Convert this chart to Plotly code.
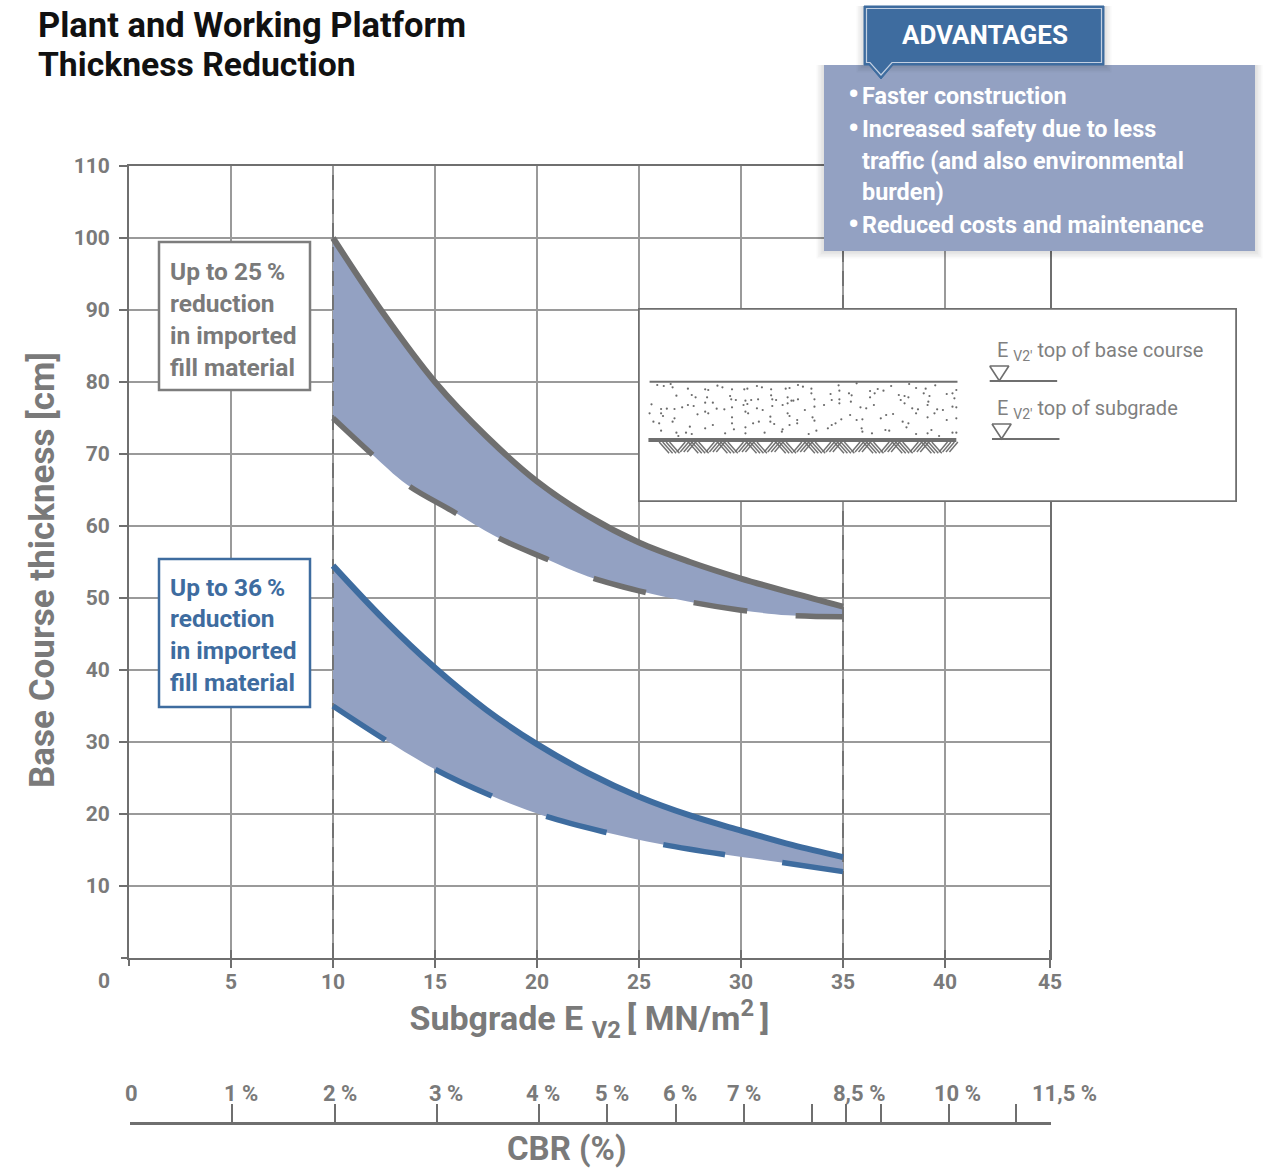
import plotly.graph_objects as go

W, H = 1274, 1171
# plotly keeps a constant 12 px at the top and right of this page
OFF = 12
GREY = "#6f6f6f"
TXT = "#7a7a7a"
BLUE = "#3e6c9f"
BAND = "#93a1c2"
FONT = "Roboto"

# ---- data ----
grey_solid_x = [10, 12.5, 15, 17.5, 20, 22.5, 25, 27.5, 30, 32.5, 35]
grey_solid_y = [100, 89.4, 80, 72.5, 66.2, 61.4, 57.7, 55, 52.7, 50.7, 48.8]
grey_dash_x = [10, 11.9, 13.6, 15.9, 18, 20.4, 22.5, 25, 27.4, 30, 32.3, 35]
grey_dash_y = [75, 70, 65.8, 62, 58.5, 55.5, 53, 51, 49.5, 48.3, 47.6, 47.4]
blue_solid_x = [10, 12.5, 15, 17.5, 20, 22.5, 25, 27.5, 30, 32.5, 35]
blue_solid_y = [54.5, 47, 40.3, 34.5, 29.7, 25.7, 22.4, 19.8, 17.7, 15.7, 14]
blue_dash_x = [10, 12.5, 15, 17.7, 20.4, 23.3, 26.1, 29.1, 31.9, 35]
blue_dash_y = [35, 30.4, 26.2, 22.6, 19.7, 17.5, 15.8, 14.4, 13.3, 12]
x_ticks = [5, 10, 15, 20, 25, 30, 35, 40, 45.147]
x_labels = ["5", "10", "15", "20", "25", "30", "35", "40", "45"]
y_ticks = [10, 20, 30, 40, 50, 60, 70, 80, 90, 100, 110]
bounds = [10, 35]
cbr_ticks = [0, 5, 10, 15, 20, 23.3, 26.7, 30, 33.3, 35, 36.7, 40, 43.3, 45]
cbr_label_pos = [0, 5, 10, 15, 20, 23.3, 26.7, 30, 35, 40, 45]
cbr_labels = ["0", "1 %", "2 %", "3 %", "4 %", "5 %", "6 %", "7 %", "8,5 %", "10 %", "11,5 %"]
cbr_shift = [1, 9, 5, 9, 4, 5, 4, 0, 13, 9, 13]
gravel_x = [45,62,80,85,125,170,178,202,215,240,272,280,305,318,342,380,390,412,425,447,518,565,600,620,655,702,720,745,770,825,
            95,135,145,175,235,238,250,275,290,308,342,345,355,385,395,412,447,455,497,520,520,545,552,600,612,635,675,690,700,740,755,800,815,820,
            30,55,70,90,110,125,140,170,190,200,220,240,270,280,305,320,345,372,385,400,430,455,480,500,520,550,575,590,610,680,690,710,725,750,752,775,790,815,825,
            25,55,60,90,150,170,178,240,275,282,340,385,390,410,450,455,500,525,548,565,580,628,642,660,685,700,720,750,768,800,825,
            35,50,85,55,95,100,120,135,130,170,190,240,245,275,295,310,340,350,372,390,410,222,275,325,370,440,460,490,510,578,580,605,640,650,695,720,750,760,780,815,825]
gravel_y = [225,228,222,232,236,238,240,227,232,238,238,236,228,232,238,236,234,225,230,236,226,220,243,237,228,222,234,236,226,240,
            257,255,262,262,258,268,270,272,270,268,256,268,270,262,272,268,250,268,252,242,268,250,256,262,250,242,255,258,262,250,258,252,250,265,
            283,297,296,297,292,285,288,278,278,296,298,292,285,282,295,300,288,285,280,272,300,290,285,270,280,275,292,295,285,270,280,295,298,285,275,298,300,290,292,
            310,310,318,325,313,305,310,322,305,310,320,310,318,330,322,332,345,328,315,330,328,325,315,312,335,340,310,322,310,330,325,
            335,340,335,362,368,378,368,372,350,355,345,340,358,352,340,335,335,342,358,345,340,370,370,368,365,372,362,355,340,355,365,370,360,362,352,372,370,360,378,368,368]

title_lines = ["Plant and Working Platform", "Thickness Reduction"]
box25_lines = ["Up to 25\u2009%", "reduction", "in imported", "fill material"]
box36_lines = ["Up to 36\u2009%", "reduction", "in imported", "fill material"]
adv_lines = ["Faster construction", "Increased safety due to less",
             "traffic (and also environmental", "burden)", "Reduced costs and maintenance"]


def px(x):
    return x / (W - OFF)


def py(y):
    return 1 - (y - OFF) / (H - OFF)


fig = go.Figure()


def band(xl, yl, xu, yu):
    fig.add_trace(go.Scatter(x=xl, y=yl, mode="lines", line=dict(width=0, shape="spline", color=BAND), hoverinfo="skip"))
    fig.add_trace(go.Scatter(x=xu, y=yu, mode="lines", line=dict(width=0, shape="spline", color=BAND),
                             fill="tonexty", fillcolor=BAND, hoverinfo="skip"))


band(grey_dash_x, grey_dash_y, grey_solid_x, grey_solid_y)
band(blue_dash_x, blue_dash_y, blue_solid_x, blue_solid_y)
for b in bounds:
    fig.add_trace(go.Scatter(x=[b, b], y=[0, 110], mode="lines",
                             line=dict(color=GREY, width=1.8, dash="15px,9px")))
fig.add_trace(go.Scatter(x=grey_solid_x, y=grey_solid_y, mode="lines", line=dict(color=GREY, width=6, shape="spline")))
fig.add_trace(go.Scatter(x=grey_dash_x, y=grey_dash_y, mode="lines", line=dict(color=GREY, width=5.5, shape="spline", dash="54px,49px")))
fig.add_trace(go.Scatter(x=blue_solid_x, y=blue_solid_y, mode="lines", line=dict(color=BLUE, width=6, shape="spline")))
fig.add_trace(go.Scatter(x=blue_dash_x, y=blue_dash_y, mode="lines", line=dict(color=BLUE, width=5.5, shape="spline", dash="62.5px,58px")))

# ---- inset (units are those of the drawn cross-section) ----
ix = dict(xaxis="x2", yaxis="y2", hoverinfo="skip")
fig.add_trace(go.Scatter(x=[-5.2, 1557, 1557, -5.2, -5.2], y=[-6, -6, 576, 576, -6], mode="lines",
                         fill="toself", fillcolor="white", line=dict(color=GREY, width=3.6), **ix))
fig.add_trace(go.Scatter(x=[25, 828], y=[215, 215], mode="lines", line=dict(color=GREY, width=2), **ix))
fig.add_trace(go.Scatter(x=[22, 825], y=[390, 390], mode="lines", line=dict(color=GREY, width=4), **ix))
hx, hy = [], []
cell = 0
x0 = 50
while x0 < 800:
    for k in range(4):
        if cell % 2 == 0:
            hx += [x0 + k * 9, x0 + 26 + k * 9, None]
            hy += [396, 430, None]
        else:
            hx += [x0 + k * 9 + 8, x0 + k * 9 + 30, None]
            hy += [426, 396, None]
    x0 += 38
    cell += 1
fig.add_trace(go.Scatter(x=hx, y=hy, mode="lines", line=dict(color=GREY, width=1.4), connectgaps=False, **ix))
fig.add_trace(go.Scatter(x=gravel_x, y=gravel_y, mode="markers", marker=dict(color="#6a6a6a", size=2.2), **ix))
for dx, dy in [(912, 168), (918, 342)]:
    fig.add_trace(go.Scatter(x=[dx, dx + 50, dx + 25, dx], y=[dy, dy, dy + 44, dy], mode="lines",
                             line=dict(color=GREY, width=1.6), **ix))
    fig.add_trace(go.Scatter(x=[dx, dx + 176], y=[dy + 45, dy + 45], mode="lines",
                             line=dict(color=GREY, width=1.8), **ix))

# invisible carrier for the CBR scale
fig.add_trace(go.Scatter(x=cbr_ticks, y=[0] * len(cbr_ticks), mode="markers", marker=dict(opacity=0),
                         xaxis="x3", yaxis="y3", hoverinfo="skip"))

shapes = []


def rect(x0, y0, x1, y1, fill, line=None, lw=0, opacity=1):
    shapes.append(dict(type="rect", xref="paper", yref="paper", x0=px(x0), x1=px(x1), y0=py(y1), y1=py(y0),
                       fillcolor=fill, opacity=opacity, layer="above",
                       line=dict(color=line or fill, width=lw)))


def path(points, fill, line, lw):
    d = "M " + " L ".join(f"{px(a):.5f},{py(b):.5f}" for a, b in points) + " Z"
    shapes.append(dict(type="path", xref="paper", yref="paper", path=d, fillcolor=fill, layer="above",
                       line=dict(color=line, width=lw)))


# origin ticks
shapes.append(dict(type="line", xref="paper", yref="paper", x0=px(129), x1=px(129), y0=py(966), y1=py(958),
                   line=dict(color=GREY, width=2)))
shapes.append(dict(type="line", xref="paper", yref="paper", x0=px(121), x1=px(129), y0=py(958), y1=py(958),
                   line=dict(color=GREY, width=2)))
rect(159, 242, 310, 390, "white", "#7d7d7d", 2.5)
rect(159, 559, 310, 707, "white", BLUE, 2.5)
for i in range(1, 6):
    rect(824 - i * 1.5, 65, 1255 + i * 1.5, 251 + i * 1.5, "#000000", opacity=0.025)
rect(824, 65, 1255, 251, BAND)
for i in range(1, 6):
    rect(864 - i * 1.5, 6, 1104 + i * 1.5, 65 + i * 1.5, "#000000", opacity=0.025)
path([(864, 6), (1104, 6), (1104, 65), (893, 65), (881, 79), (869, 65), (864, 65)], BLUE, BLUE, 1)
path([(866.5, 8.5), (1101.5, 8.5), (1101.5, 62.5), (892, 62.5), (881, 75), (870, 62.5), (866.5, 62.5)], BLUE, "#c3d0e2", 1.2)

ann = []


def text(x, y, s, size, color, bold=True, anchor="left", angle=0):
    ann.append(dict(xref="paper", yref="paper", x=px(x), y=py(y), text=f"<b>{s}</b>" if bold else s, showarrow=False,
                    xanchor=anchor, yanchor="middle", align="left", textangle=angle,
                    font=dict(family=FONT, size=size, color=color)))


text(36, 25, title_lines[0], 34.5, "#111111")
text(36, 65, title_lines[1], 33.7, "#111111")
for s, y in zip(box25_lines, [271, 303, 335, 367]):
    text(168, y, s, 24.5, TXT)
for s, y in zip(box36_lines, [587, 619, 650, 682]):
    text(168, y, s, 24.5, BLUE)
text(985, 35, "ADVANTAGES", 26, "white", anchor="center")
for s, y in zip(adv_lines, [96, 129, 161, 192, 225]):
    text(860, y, s, 23.4, "white")
for y in [95, 128, 224]:
    text(853, y, "•", 31, "white", anchor="center")
text(104, 981, "0", 21, TXT, anchor="center")
text(995, 351, "E <sub>V2'</sub> top of base course", 20, "#808080", bold=False)
text(995, 409, "E <sub>V2'</sub> top of subgrade", 20, "#808080", bold=False)
text(42, 570, "Base Course thickness [cm]", 35, TXT, anchor="center", angle=-90)
text(567, 1148, "CBR (%)", 33, TXT, anchor="center")
for p, s, sh in zip(cbr_label_pos, cbr_labels, cbr_shift):
    ann.append(dict(xref="x3", yref="paper", x=p, y=py(1093), xshift=sh, text=f"<b>{s}</b>", showarrow=False,
                    xanchor="center", yanchor="middle", font=dict(family=FONT, size=22, color=TXT)))

fig.update_layout(
    width=W, height=H, margin=dict(l=0, r=0, t=0, b=0), showlegend=False,
    paper_bgcolor="white", plot_bgcolor="white", font=dict(family=FONT, color=TXT),
    shapes=shapes, annotations=ann,
    xaxis=dict(domain=[px(129), px(1050)], range=[0, 45.147], tickvals=x_ticks, ticktext=x_labels, ticks="outside", ticklen=8,
               tickcolor=GREY, tickwidth=2, showgrid=True, gridcolor="#9a9a9a", gridwidth=1.5, zeroline=False,
               showline=True, linecolor=GREY, linewidth=2, anchor="y", mirror=True,
               minor=dict(ticks="inside", tickvals=x_ticks, ticklen=8, tickcolor=GREY, tickwidth=2),
               ticklabelstandoff=-4, tickfont=dict(family=FONT, size=21, color=TXT, weight="bold"),
               title=dict(text="<b>Subgrade E <sub>V2 </sub>[ MN/m<sup>2 </sup>]</b>", standoff=6,
                          font=dict(family=FONT, size=34, color=TXT))),
    yaxis=dict(domain=[py(958), py(166)], range=[0, 110], tickvals=y_ticks, ticks="outside", ticklen=8,
               tickcolor=GREY, tickwidth=2, showgrid=True, gridcolor="#9a9a9a", gridwidth=1.5, zeroline=False,
               showline=True, linecolor=GREY, linewidth=2, anchor="x", mirror=True,
               ticklabelstandoff=5, tickfont=dict(family=FONT, size=21, color=TXT, weight="bold")),
    xaxis2=dict(domain=[px(638), px(1237)], range=[-5.2, 1557], visible=False, anchor="y2"),
    yaxis2=dict(domain=[py(502), py(308)], range=[576, -6], visible=False, anchor="x2"),
    xaxis3=dict(domain=[px(130), px(1051)], range=[0, 45], tickvals=cbr_ticks, showticklabels=False, ticks="inside", ticklen=18,
                tickcolor=GREY, tickwidth=1.5, showgrid=False, zeroline=False, showline=True, linecolor=GREY, linewidth=2.5,
                anchor="y3"),
    yaxis3=dict(domain=[py(1122), py(1095)], range=[0, 1], visible=False, anchor="x3"),
)

fig.write_html("out.html", config={"displayModeBar": False},
               post_script="var s=document.body.style;s.margin='0';s.overflow='hidden';"
                           "var g=document.querySelector('.plotly-graph-div');g.style.position='fixed';g.style.left='0';g.style.top='0';")
